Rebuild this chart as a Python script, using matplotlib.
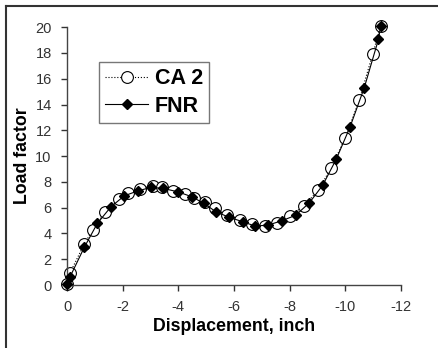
import matplotlib as mpl
mpl.use('Agg')
import matplotlib.pyplot as plt
from matplotlib.lines import Line2D

plt.rcParams['font.family'] = ['Liberation Sans', 'DejaVu Sans']

# CA 2 results (open circles, dotted)
ca2_disp = [0, -0.11, -0.62, -0.92, -1.37, -1.87, -2.18, -2.62, -3.10, -3.40,
            -3.82, -4.24, -4.58, -4.95, -5.30, -5.74, -6.22, -6.64, -7.11,
            -7.56, -8.01, -8.52, -9.03, -9.48, -9.99, -10.50, -10.98, -11.27]
ca2_load = [0.1, 0.95, 3.18, 4.26, 5.68, 6.64, 7.16, 7.42, 7.67, 7.57,
            7.31, 7.05, 6.78, 6.40, 5.95, 5.43, 5.04, 4.73, 4.57,
            4.83, 5.35, 6.15, 7.36, 9.05, 11.37, 14.34, 17.88, 20.1]

# FNR results (filled diamonds, solid)
fnr_disp = [0, -0.11, -0.62, -1.09, -1.58, -2.06, -2.56, -3.02, -3.46, -3.98,
            -4.48, -4.92, -5.35, -5.83, -6.31, -6.76, -7.23, -7.71, -8.21,
            -8.71, -9.19, -9.67, -10.17, -10.68, -11.19, -11.27]
fnr_load = [0.08, 0.64, 2.92, 4.78, 6.07, 6.92, 7.31, 7.57, 7.49, 7.23,
            6.85, 6.33, 5.68, 5.25, 4.91, 4.57, 4.65, 4.98, 5.40,
            6.38, 7.75, 9.74, 12.26, 15.3, 19.05, 20.08]

xticks = [0, -2, -4, -6, -8, -10, -12]
yticks = list(range(0, 21, 2))

fig = plt.figure(figsize=(4.38, 3.48), dpi=100)
ax = fig.add_axes([0.153, 0.181, 0.7625, 0.741])

ax.plot(ca2_disp, ca2_load, linestyle=':', color='black', linewidth=0.8,
        marker='o', markersize=8.5, markerfacecolor='white',
        markeredgecolor='black', markeredgewidth=0.8, label='CA 2',
        zorder=2, clip_on=False)
ax.plot(fnr_disp, fnr_load, linestyle='-', color='black', linewidth=0.8,
        marker='D', markersize=5.5, markerfacecolor='black',
        markeredgecolor='black', label='FNR', zorder=3, clip_on=False)

ax.set_xlim(0, -12)
ax.set_ylim(0, 20)
ax.set_xticks(xticks)
ax.set_yticks(yticks)
ax.set_xticklabels([str(t) for t in xticks])
ax.tick_params(direction='out', length=4, width=1, labelsize=10.5,
               colors='#333333', pad=7)
for side in ['top', 'right']:
    ax.spines[side].set_visible(False)
for side in ['left', 'bottom']:
    ax.spines[side].set_color('#444444')
    ax.spines[side].set_linewidth(1.0)

ax.set_xlabel('Displacement, inch', fontsize=12.8, fontweight='bold', labelpad=3)
ax.set_ylabel('Load factor', fontsize=12.8, fontweight='bold', labelpad=3)

leg = ax.legend(loc='upper left', bbox_to_anchor=(0.095, 0.866),
                prop={'size': 15.5, 'weight': 'bold'}, frameon=True,
                fancybox=False, handlelength=2.0, borderpad=0.3,
                labelspacing=0.3, handletextpad=0.3, borderaxespad=0)
leg.get_frame().set_edgecolor('#555555')
leg.get_frame().set_linewidth(1.0)

# outer frame of the original figure (left and top edges visible)
fig.add_artist(Line2D([6 / 438, 6 / 438], [0, 1 - 6 / 348],
                      transform=fig.transFigure, color='#333333', linewidth=1.5))
fig.add_artist(Line2D([6 / 438, 1], [1 - 6 / 348, 1 - 6 / 348],
                      transform=fig.transFigure, color='#333333', linewidth=1.5))

plt.savefig('out.png', dpi=100)
